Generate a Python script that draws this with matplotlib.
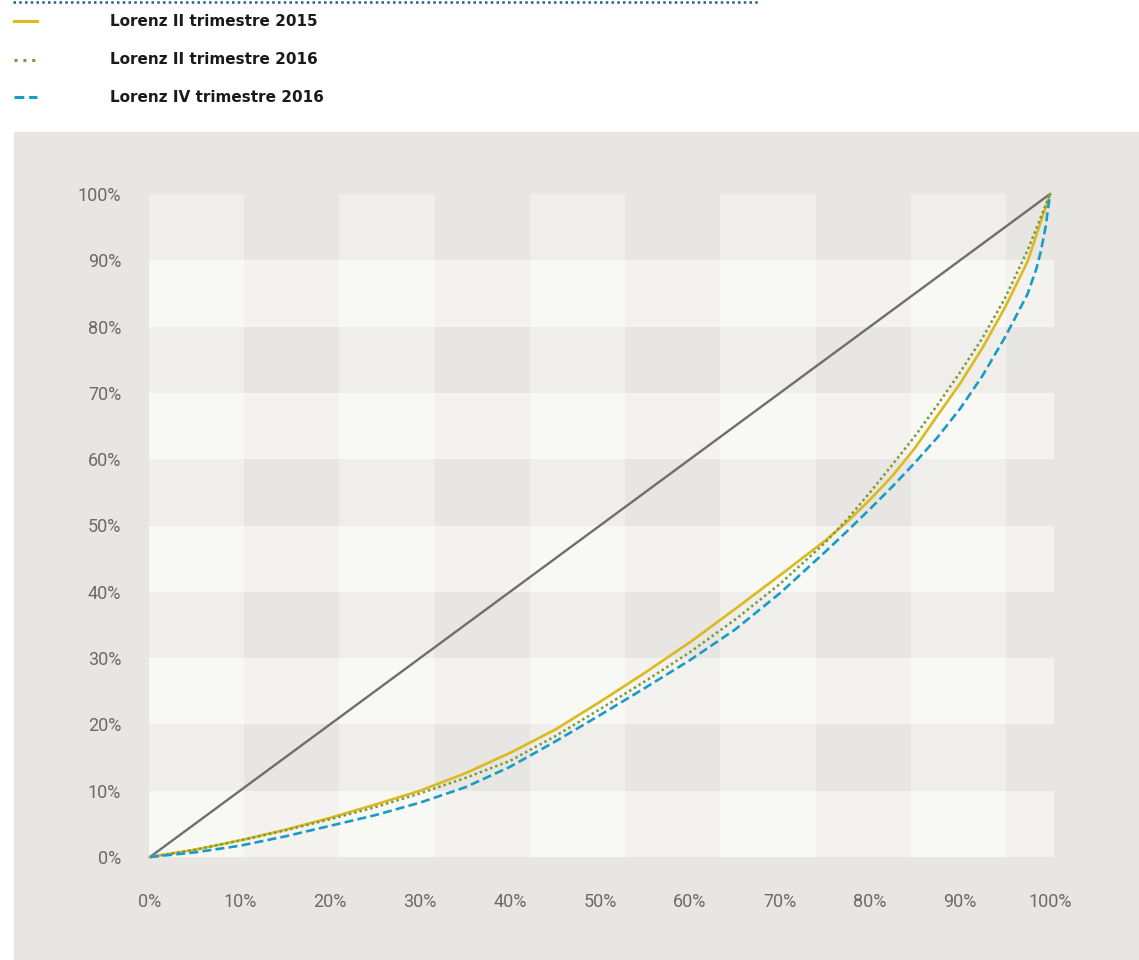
import matplotlib
matplotlib.use('Agg')
import matplotlib.pyplot as plt
from matplotlib.lines import Line2D
from matplotlib.patches import Rectangle

# share of population (%) and cumulative share of income (%)
pop_2015 = [0, 5, 10, 15, 20, 25, 30, 35, 40, 45, 50, 55, 60, 65, 70, 75, 77.5, 80, 82.5, 85,
            87.5, 90, 92.5, 95, 97.5, 100]
lor_2015 = [0, 1.1, 2.5, 4.1, 5.9, 7.9, 10.0, 12.6, 15.7, 19.2, 23.4, 27.8, 32.4, 37.4, 42.5, 47.7, 50.6, 53.9, 57.5, 61.7,
            66.6, 71.4, 76.8, 82.9, 89.8, 100]

pop_2016 = [0, 5, 10, 15, 20, 25, 30, 35, 40, 45, 50, 55, 60, 65, 70, 75, 77.5, 80, 82.5, 85,
            87.5, 90, 92.5, 95, 97.5, 100]
lor_2016 = [0, 1.1, 2.5, 4.0, 5.7, 7.5, 9.6, 11.9, 14.5, 18.2, 22.3, 26.5, 30.9, 35.8, 41.2, 47.4, 51.0, 55.0, 59.2, 63.5,
            68.2, 73.1, 78.3, 84.3, 91.5, 100]

pop_2016_iv = [0, 5, 10, 15, 20, 25, 30, 35, 40, 45, 50, 55, 60, 65, 70, 75, 77.5, 80, 82.5, 85,
               87.5, 90, 92.5, 95, 97.5, 98.5, 99, 99.5, 100]
lor_2016_iv = [0, 0.7, 1.7, 3.1, 4.7, 6.3, 8.2, 10.5, 13.6, 17.4, 21.4, 25.5, 29.7, 34.3, 39.8, 46.0, 49.2, 52.5, 55.9, 59.5,
               63.3, 67.6, 72.6, 78.4, 84.9, 88.8, 91.5, 95.0, 100]

equality = [0, 100]

series_labels = ['Lorenz II trimestre 2015', 'Lorenz II trimestre 2016', 'Lorenz IV trimestre 2016']
ticks = list(range(0, 101, 10))
tick_labels = [f'{t}%' for t in ticks]

YELLOW = '#DDB920'
GREEN = '#7A9A3A'
BLUE = '#189CC6'
GREY = '#6E6E6E'
BG = '#E7E6E2'

W, H = 1139, 960
fig = plt.figure(figsize=(W / 100, H / 100), dpi=100)
fig.patch.set_facecolor('white')

# grey panel behind the chart
panel = Rectangle((14 / W, 0), (W - 14) / W, (H - 132) / H,
                  transform=fig.transFigure, color=BG, zorder=-5)
fig.add_artist(panel)

# axes: x 0..100 at px 150..1050, grid cells start at px 149 and end at 1054
x0, x1 = -0.11, 100.44
ax = fig.add_axes([149 / W, (H - 857) / H, 905 / W, 663 / H])
ax.set_zorder(1)
ax.set_xlim(x0, x1)
ax.set_ylim(0, 100)
ax.set_facecolor(BG)
for s in ax.spines.values():
    s.set_visible(False)

# checkerboard: rows follow the 10% grid, columns are ~10.58 units wide
cell_cols = {(0, 0): '#F8F8F4', (0, 1): '#F3F2EF', (1, 0): '#EFEEEA', (1, 1): '#E7E6E2'}
cw = 10.58
for r in range(10):
    c = 0
    xs = x0
    while xs < x1:
        ax.add_patch(Rectangle((xs, r * 10), min(cw, x1 - xs), 10,
                               color=cell_cols[(r % 2, c % 2)], lw=0, zorder=0))
        xs += cw
        c += 1

ax.plot(equality, equality, color=GREY, lw=1.7, clip_on=False, zorder=3)
ax.plot(pop_2015, lor_2015, color=YELLOW, lw=1.9, clip_on=False, zorder=4)
ax.plot(pop_2016, lor_2016, color=GREEN, lw=1.8, ls=(0, (1, 1.2)), clip_on=False, zorder=5)
ax.plot(pop_2016_iv, lor_2016_iv, color=BLUE, lw=1.9, ls=(0, (3.4, 1.6)), clip_on=False, zorder=6)

tick_font = dict(family=['Roboto', 'DejaVu Sans'], weight='normal', size=13)
ax.set_xticks(ticks)
ax.set_xticklabels(tick_labels, color='#6A6A6A', **tick_font)
ax.set_yticks(ticks)
ax.set_yticklabels(tick_labels, color='#6A6A6A', **tick_font)
ax.tick_params(axis='both', length=0)
ax.tick_params(axis='x', pad=26)
ax.tick_params(axis='y', pad=20)

# legend drawn by hand in the white strip on top
leg_y = [21, 60, 97]
styles = [dict(color=YELLOW, lw=2.2, ls='-'),
          dict(color=GREEN, lw=2.2, ls=(0, (1, 1.9))),
          dict(color=BLUE, lw=2.2, ls=(0, (3.2, 1.6)))]
for y, lab, st in zip(leg_y, series_labels, styles):
    fig.add_artist(Line2D([14 / W, 37 / W], [1 - y / H, 1 - y / H],
                          transform=fig.transFigure, **st))
    fig.text(110 / W, 1 - y / H, lab, ha='left', va='center', color='#1a1a1a',
             family=['DejaVu Sans'], weight='bold', size=11)

# dotted rule at the very top
fig.add_artist(Line2D([13 / W, 758 / W], [1 - 1.5 / H, 1 - 1.5 / H],
                      transform=fig.transFigure, color='#1F6482', lw=1.8, ls=(0, (1, 1.3))))

fig.savefig('out.png', dpi=100)
